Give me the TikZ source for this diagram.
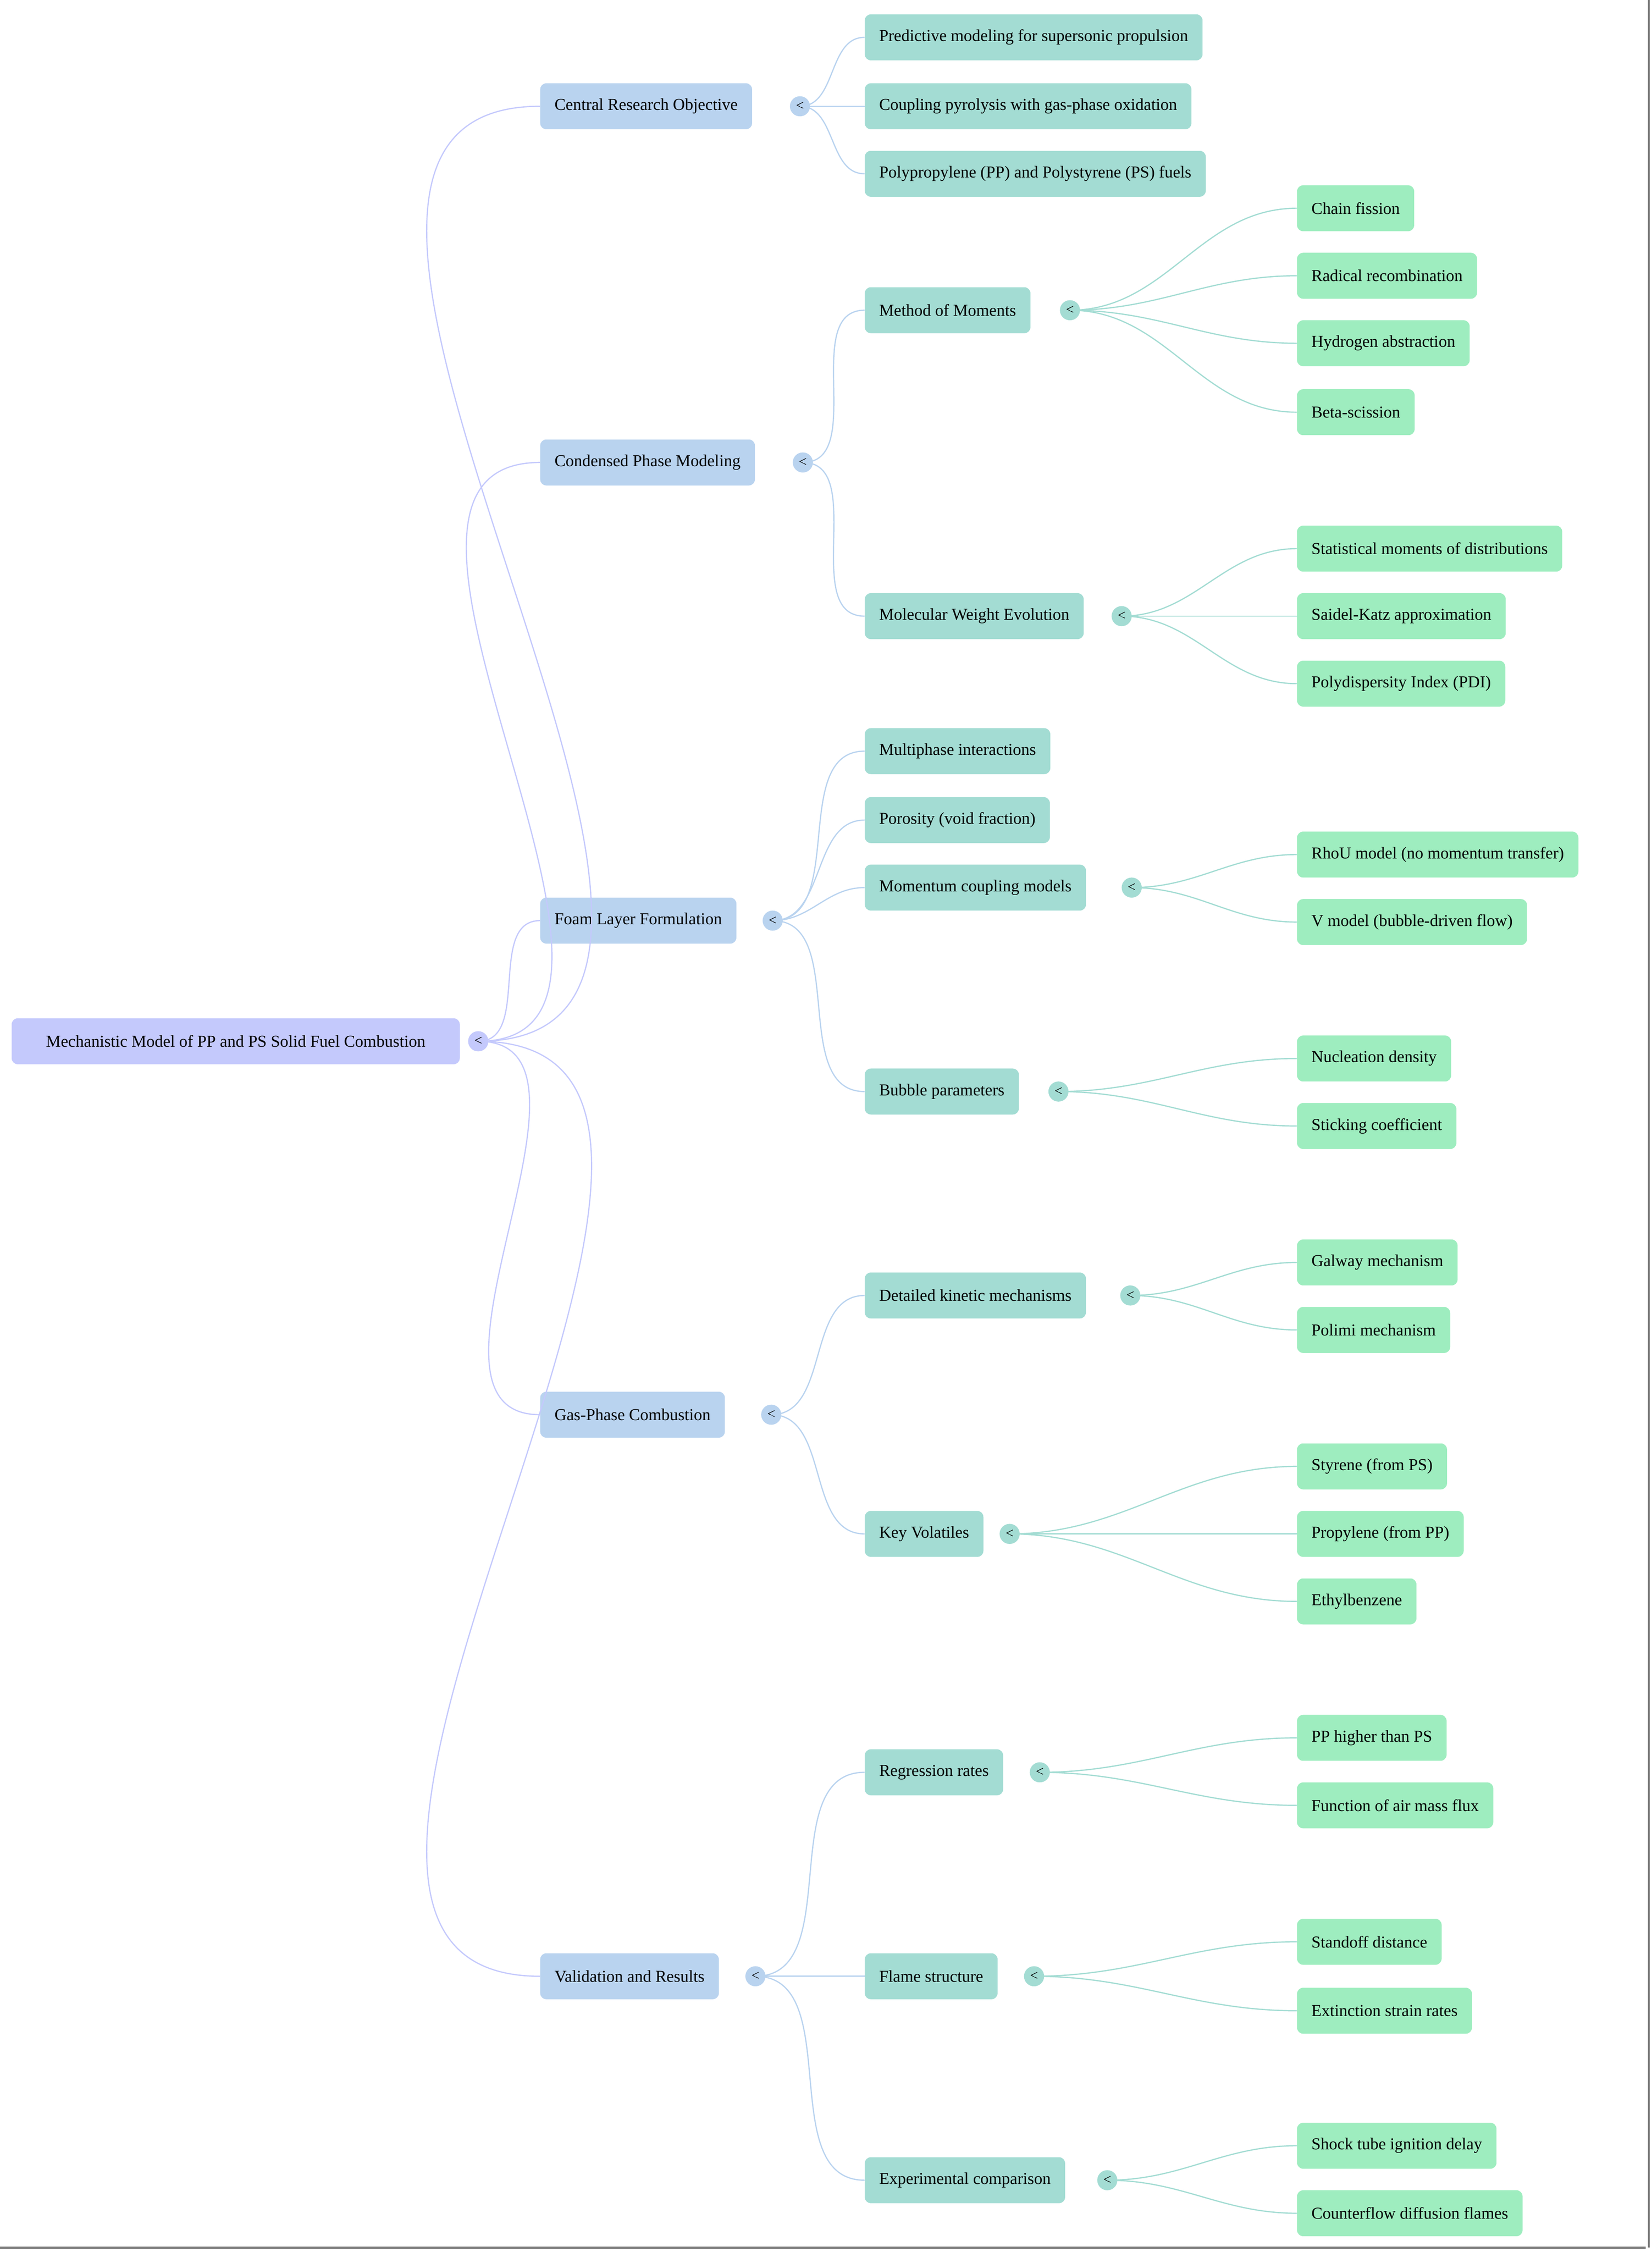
\documentclass[tikz,border=0pt]{standalone}
\usepackage{fontspec}
\setmainfont{Liberation Serif}
\usetikzlibrary{positioning}
\definecolor{rootcol}{HTML}{C4C9FC}
\definecolor{topcol}{HTML}{B9D3EF}
\definecolor{subcol}{HTML}{A3DCD3}
\definecolor{leafcol}{HTML}{9EEDBF}
\begin{document}
\begin{tikzpicture}[x=0.05cm, y=-0.05cm,
    % Stili per i nodi
    box/.style={rectangle, rounded corners=6pt, anchor=west, minimum height=1.6cm, inner xsep=0.5cm, font=\fontsize{16.5}{18}\selectfont},
    rootbox/.style={box, fill=rootcol},
    topbox/.style={box, fill=topcol},
    subbox/.style={box, fill=subcol},
    leafbox/.style={box, fill=leafcol},
    toggle/.style={circle, inner sep=0pt, minimum size=0.7cm, font=\fontsize{14}{14}\selectfont},
    % Stili per le connessioni
    link/.style={line width=1.2pt, out=0, in=180},
    rootlink/.style={link, draw=rootcol},
    toplink/.style={link, draw=topcol},
    sublink/.style={link, draw=subcol}
]
\useasboundingbox (0,0) rectangle (1150,1568);

% === RADICE ===
\node[rootbox, minimum width=15.6cm] (root) at (8,725) {Mechanistic Model of PP and PS Solid Fuel Combustion};
\node[toggle, fill=rootcol] (rootc) at (333,725) {<};

% === PRIMO LIVELLO ===
\node[topbox] (obj) at (376,74) {Central Research Objective};
\node[toggle, fill=topcol] (objc) at (557,74) {<};
\node[topbox] (cond) at (376,322) {Condensed Phase Modeling};
\node[toggle, fill=topcol] (condc) at (559,322) {<};
\node[topbox] (foam) at (376,641) {Foam Layer Formulation};
\node[toggle, fill=topcol] (foamc) at (538,641) {<};
\node[topbox] (gas) at (376,985) {Gas-Phase Combustion};
\node[toggle, fill=topcol] (gasc) at (537,985) {<};
\node[topbox] (valid) at (376,1376) {Validation and Results};
\node[toggle, fill=topcol] (validc) at (526,1376) {<};

% === SECONDO LIVELLO ===
\node[subbox] (pred) at (602,26) {Predictive modeling for supersonic propulsion};
\node[subbox] (coup) at (602,74) {Coupling pyrolysis with gas-phase oxidation};
\node[subbox] (fuels) at (602,121) {Polypropylene (PP) and Polystyrene (PS) fuels};
\node[subbox] (mom) at (602,216) {Method of Moments};
\node[toggle, fill=subcol] (momc) at (745,216) {<};
\node[subbox] (mwe) at (602,429) {Molecular Weight Evolution};
\node[toggle, fill=subcol] (mwec) at (781,429) {<};
\node[subbox] (multi) at (602,523) {Multiphase interactions};
\node[subbox] (poro) at (602,571) {Porosity (void fraction)};
\node[subbox] (mcm) at (602,618) {Momentum coupling models};
\node[toggle, fill=subcol] (mcmc) at (788,618) {<};
\node[subbox] (bub) at (602,760) {Bubble parameters};
\node[toggle, fill=subcol] (bubc) at (737,760) {<};
\node[subbox] (dkm) at (602,902) {Detailed kinetic mechanisms};
\node[toggle, fill=subcol] (dkmc) at (787,902) {<};
\node[subbox] (kv) at (602,1068) {Key Volatiles};
\node[toggle, fill=subcol] (kvc) at (703,1068) {<};
\node[subbox] (reg) at (602,1234) {Regression rates};
\node[toggle, fill=subcol] (regc) at (724,1234) {<};
\node[subbox] (flame) at (602,1376) {Flame structure};
\node[toggle, fill=subcol] (flamec) at (720,1376) {<};
\node[subbox] (exp) at (602,1518) {Experimental comparison};
\node[toggle, fill=subcol] (expc) at (771,1518) {<};

% === FOGLIE ===
\node[leafbox] (chain) at (903,145) {Chain fission};
\node[leafbox] (radical) at (903,192) {Radical recombination};
\node[leafbox] (hydro) at (903,239) {Hydrogen abstraction};
\node[leafbox] (beta) at (903,287) {Beta-scission};
\node[leafbox] (stat) at (903,382) {Statistical moments of distributions};
\node[leafbox] (saidel) at (903,429) {Saidel-Katz approximation};
\node[leafbox] (pdi) at (903,476) {Polydispersity Index (PDI)};
\node[leafbox] (rhou) at (903,595) {RhoU model (no momentum transfer)};
\node[leafbox] (vmod) at (903,642) {V model (bubble-driven flow)};
\node[leafbox] (nucl) at (903,737) {Nucleation density};
\node[leafbox] (stick) at (903,784) {Sticking coefficient};
\node[leafbox] (galway) at (903,879) {Galway mechanism};
\node[leafbox] (polimi) at (903,926) {Polimi mechanism};
\node[leafbox] (styr) at (903,1021) {Styrene (from PS)};
\node[leafbox] (prop) at (903,1068) {Propylene (from PP)};
\node[leafbox] (ethyl) at (903,1115) {Ethylbenzene};
\node[leafbox] (pphigh) at (903,1210) {PP higher than PS};
\node[leafbox] (airflux) at (903,1257) {Function of air mass flux};
\node[leafbox] (standoff) at (903,1352) {Standoff distance};
\node[leafbox] (strain) at (903,1400) {Extinction strain rates};
\node[leafbox] (shock) at (903,1494) {Shock tube ignition delay};
\node[leafbox] (counter) at (903,1541) {Counterflow diffusion flames};

% === CONNESSIONI ===
\foreach \t in {obj,cond,foam,gas,valid}
  \draw[rootlink] (rootc.center) to (\t.west);
\foreach \p/\c in {objc/pred,objc/coup,objc/fuels,condc/mom,condc/mwe,foamc/multi,foamc/poro,foamc/mcm,foamc/bub,gasc/dkm,gasc/kv,validc/reg,validc/flame,validc/exp}
  \draw[toplink] (\p.center) to (\c.west);
\foreach \p/\c in {momc/chain,momc/radical,momc/hydro,momc/beta,mwec/stat,mwec/saidel,mwec/pdi,mcmc/rhou,mcmc/vmod,bubc/nucl,bubc/stick,dkmc/galway,dkmc/polimi,kvc/styr,kvc/prop,kvc/ethyl,regc/pphigh,regc/airflux,flamec/standoff,flamec/strain,expc/shock,expc/counter}
  \draw[sublink] (\p.center) to (\c.west);

% cerchi sopra le linee
\foreach \c in {rootc}
  \node[toggle, fill=rootcol] at (\c) {<};

% === BORDI ===
\draw[gray, line width=2pt] (1148,0) -- (1148,1565);
\draw[gray, line width=2pt] (0,1565) -- (1146,1565);
\end{tikzpicture}
\end{document}
